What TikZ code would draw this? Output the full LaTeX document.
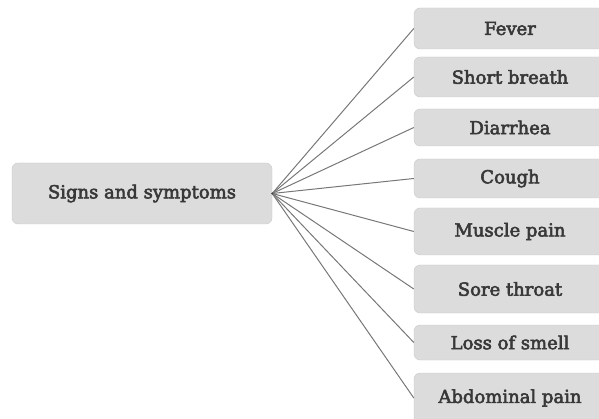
\documentclass[tikz,border=0pt]{standalone}
\usepackage{fontspec}
\newfontfamily\symfont{DejaVu Serif}[FakeBold=3]
\usetikzlibrary{calc}

\definecolor{boxfill}{HTML}{DCDCDC}
\definecolor{boxline}{HTML}{CACACA}
\definecolor{boxtext}{HTML}{383838}
\definecolor{spoke}{HTML}{777777}

\tikzset{
  symbox/.style={draw=boxline,fill=boxfill,rounded corners=6pt,
    text=boxtext,font=\symfont\fontsize{18}{20}\selectfont,
    minimum width=192pt,inner sep=0pt},
  spokeline/.style={draw=spoke,line width=1pt}
}

\begin{document}
\begin{tikzpicture}[x=1pt,y=-1pt]
    % The frame
    \useasboundingbox (0,0) rectangle (599,419);
    % The root
    \node[symbox,minimum width=260pt,minimum height=61pt] (signs) at (142,193.5) {Signs and symptoms};
    % The symptoms
    \node[symbox,minimum height=41pt] (fever) at (510,28.5) {Fever};
    \node[symbox,minimum height=40pt] (breath) at (510,77) {Short breath};
    \node[symbox,minimum height=37pt] (diarrhea) at (510,127.5) {Diarrhea};
    \node[symbox,minimum height=39pt] (cough) at (510,178.5) {Cough};
    \node[symbox,minimum height=47pt] (muscle) at (510,231.5) {Muscle pain};
    \node[symbox,minimum height=48pt] (throat) at (510,289) {Sore throat};
    \node[symbox,minimum height=35pt] (smell) at (510,342.5) {Loss of smell};
    \node[symbox,minimum height=50pt] (abdomen) at (510,398) {Abdominal pain};
    % The spokes
    \foreach \s in {fever,breath,diarrhea,cough,muscle,throat,smell,abdomen}
      \draw[spokeline] (signs.east) -- (\s.west);
    \fill[spoke!60!black] (signs.east) circle (1.2pt);
\end{tikzpicture}
\end{document}
